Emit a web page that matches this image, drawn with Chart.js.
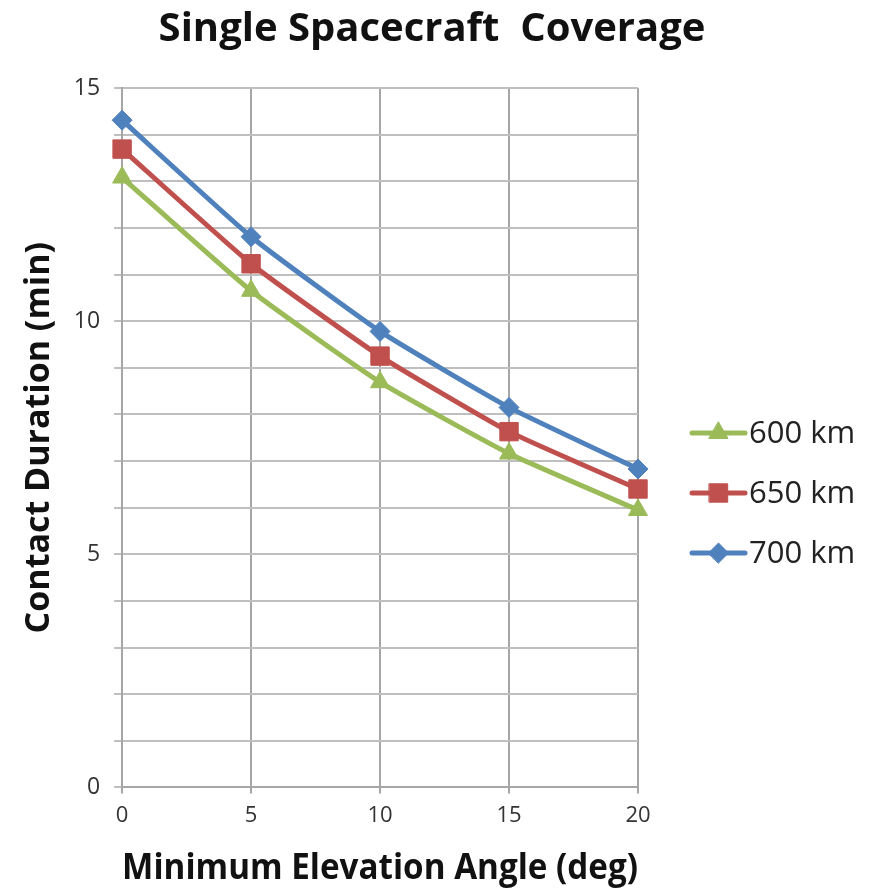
<!DOCTYPE html>
<html>
<head>
<meta charset="utf-8">
<script src="https://cdn.jsdelivr.net/npm/chart.js@4.4.1/dist/chart.umd.min.js"></script>
<style>
  html, body { margin: 0; padding: 0; background: #fff; }
  #wrap { width: 872px; height: 890px; }
</style>
</head>
<body>
<div id="wrap"><canvas id="coverageChart" width="872" height="890"></canvas></div>
<script>
const elevAngles = [0, 5, 10, 15, 20];
const altitudeLabels = ["600 km", "650 km", "700 km"];
const dur600 = [13.08, 10.65, 8.69, 7.16, 5.95];
const dur650 = [13.69, 11.23, 9.25, 7.63, 6.40];
const dur700 = [14.31, 11.81, 9.78, 8.15, 6.83];
const seriesColors = ["#9BBB59", "#C0504D", "#4F81BD"];
const seriesMarkers = ["triangle", "rect", "rectRot"];
const markerSizes = [11, 13, 10];
const chartTitle = 'Single Spacecraft  Coverage';

const FONT = "'Open Sans', 'Lato', sans-serif";

// title centred on the whole canvas + legend drawn as line + marker
const sideLegend = {
  id: 'sideLegend',
  afterDraw(chart) {
    const ctx = chart.ctx;
    ctx.save();
    ctx.fillStyle = '#111';
    ctx.font = "bold 40px " + FONT;
    ctx.textAlign = 'center';
    ctx.textBaseline = 'middle';
    ctx.fillText(chartTitle, 432, 30);
    ctx.restore();

    const x0 = 692, x1 = 745;
    chart.data.datasets.forEach((ds, i) => {
      const y = 433 + i * 60;
      ctx.save();
      ctx.strokeStyle = ds.borderColor;
      ctx.lineWidth = 5;
      ctx.lineCap = 'round';
      ctx.beginPath();
      ctx.moveTo(x0, y);
      ctx.lineTo(x1, y);
      ctx.stroke();
      ctx.fillStyle = ds.backgroundColor;
      ctx.strokeStyle = ds.borderColor;
      ctx.lineWidth = 1;
      Chart.helpers.drawPoint(ctx, { pointStyle: ds.pointStyle, radius: ds.pointRadius, rotation: 0, borderWidth: 1 }, (x0 + x1) / 2, y);
      ctx.fillStyle = '#222';
      ctx.font = "31px " + FONT;
      ctx.textBaseline = 'middle';
      ctx.textAlign = 'left';
      ctx.fillText(ds.label, x1 + 4, y + 1);
      ctx.restore();
    });
  }
};

const seriesData = [dur600, dur650, dur700];
const datasets = seriesData.map((vals, i) => ({
  label: altitudeLabels[i],
  data: vals.map((v, j) => ({ x: elevAngles[j], y: v })),
  borderColor: seriesColors[i],
  backgroundColor: seriesColors[i],
  borderWidth: 5,
  pointStyle: seriesMarkers[i],
  pointRadius: markerSizes[i],
  pointBorderWidth: 1,
  tension: 0.15,
  clip: false,
  fill: false
}));

new Chart(document.getElementById('coverageChart'), {
  type: 'line',
  data: { datasets },
  plugins: [sideLegend],
  options: {
    responsive: false,
    animation: false,
    layout: { padding: { top: 88, right: 234, bottom: 0, left: 19 } },
    plugins: {
      legend: { display: false },
      tooltip: { enabled: false },
      title: { display: false }
    },
    scales: {
      x: {
        type: 'linear',
        min: 0, max: 20,
        ticks: { stepSize: 5, color: '#333', font: { family: FONT, size: 22 }, padding: 9 },
        grid: { color: '#A6A6A6', lineWidth: 2, tickLength: 6 },
        border: { color: '#A6A6A6', width: 2 },
        title: {
          display: true,
          text: 'Minimum Elevation Angle (deg)',
          color: '#111',
          font: { family: FONT, size: 36, weight: 'bold' },
          padding: { top: 9, bottom: 0 }
        }
      },
      y: {
        min: 0, max: 15,
        ticks: {
          stepSize: 1,
          autoSkip: false,
          color: '#333',
          font: { family: FONT, size: 23 },
          padding: 14,
          callback: v => (v % 5 === 0 ? String(v) : '')
        },
        grid: { color: '#BFBFBF', lineWidth: 2, tickLength: 8 },
        border: { color: '#A6A6A6', width: 2 },
        title: {
          display: true,
          text: 'Contact Duration (min)',
          color: '#111',
          font: { family: FONT, size: 34, weight: 'bold' },
          padding: { top: 0, bottom: 0 }
        }
      }
    }
  }
});
</script>
</body>
</html>
